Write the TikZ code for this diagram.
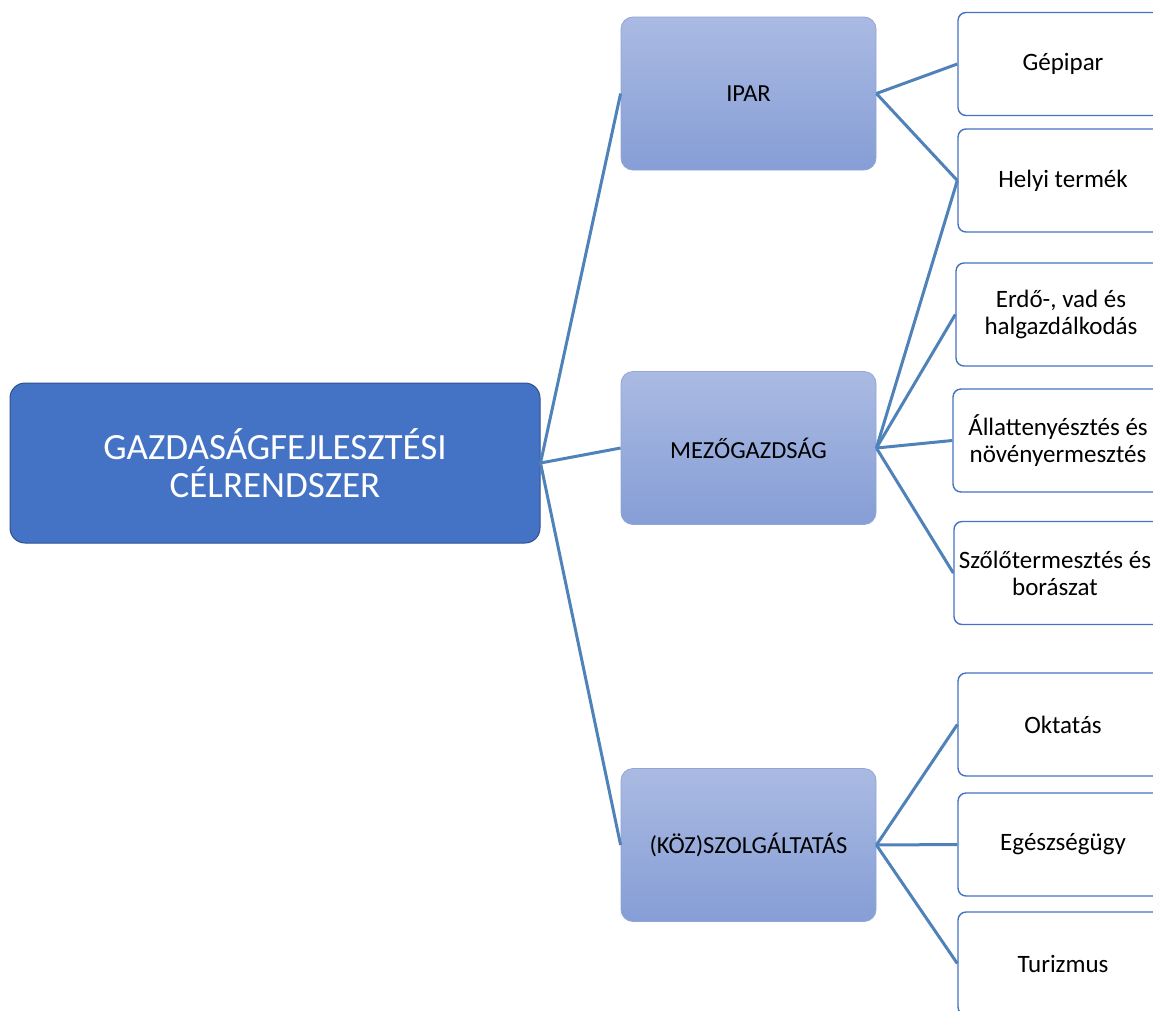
\documentclass[tikz,border=0pt]{standalone}
\usepackage{fontspec}
\setmainfont{Carlito}
\usetikzlibrary{calc, backgrounds}
\definecolor{rootblue}{RGB}{68,114,196}
\definecolor{rootedge}{RGB}{47,82,143}
\definecolor{midtop}{RGB}{170,186,226}
\definecolor{midbottom}{RGB}{134,158,214}
\definecolor{midedge}{RGB}{143,166,214}
\definecolor{linkblue}{RGB}{80,130,186}
\def\lw{3pt}
\tikzset{
    rootbox/.style = {draw=rootedge, line width=1pt, fill=rootblue, rounded corners=15pt, text=white,
        minimum width=530pt, minimum height=160pt, align=center, font=\fontsize{37}{38}\selectfont},
    midbox/.style = {draw=midedge, line width=0.8pt, top color=midtop, bottom color=midbottom, rounded corners=12pt,
        minimum width=255pt, minimum height=153pt, align=center, font=\fontsize{24.5}{28}\selectfont},
    leafbox/.style = {draw=rootblue, line width=1.4pt, fill=white, rounded corners=8pt,
        minimum width=210pt, minimum height=103pt, align=center, font=\fontsize{25}{27}\selectfont},
    link/.style = {draw=linkblue, line width=\lw}
}

\begin{document}
\begin{tikzpicture}[x=1pt, y=-1pt]
        % fix the frame of the picture
        \useasboundingbox (0,0) rectangle (1153,1010);
        \clip (0,0) rectangle (1153,1010);

        % root node
        \node[rootbox] (root) at (275,463) {GAZDASÁGFEJLESZTÉSI\\CÉLRENDSZER};

        % middle nodes
        \node[midbox] (ipar) at (748.5,93.5) {IPAR};
        \node[midbox] (mezo) at (748.5,448) {MEZŐGAZDSÁG};
        \node[midbox] (szolg) at (748.5,845) {(KÖZ)SZOLGÁLTATÁS};

        % leaf nodes (cut at the right edge)
        \node[leafbox] (gepipar) at (1063,64) {Gépipar};
        \node[leafbox] (helyi) at (1063,180.5) {Helyi termék};
        \node[leafbox] (erdo) at (1061,314.5) {Erdő-, vad és\\halgazdálkodás};
        \node[leafbox] (allat) at (1058,440.5) {Állattenyésztés és\\növényermesztés};
        \node[leafbox] (szolo) at (1059,573) {Szőlőtermesztés és\hspace*{8pt}\\borászat\hspace*{8pt}};
        \node[leafbox] (oktatas) at (1063,724.5) {Oktatás};
        \node[leafbox] (egeszseg) at (1063,844.5) {Egészségügy};
        \node[leafbox] (turizmus) at (1063,963.5) {Turizmus};

        % connectors from the root
        \draw[link] (root.east) -- (ipar.west);
        \draw[link] (root.east) -- (mezo.west);
        \draw[link] (root.east) -- (szolg.west);

        % connectors of IPAR
        \draw[link] (ipar.east) -- (gepipar.west);
        \draw[link] (ipar.east) -- (helyi.west);

        % connectors of MEZŐGAZDSÁG
        \draw[link] (mezo.east) -- (helyi.west);
        \draw[link] (mezo.east) -- (erdo.west);
        \draw[link] (mezo.east) -- (allat.west);
        \draw[link] (mezo.east) -- (szolo.west);

        % connectors of (KÖZ)SZOLGÁLTATÁS
        \draw[link] (szolg.east) -- (oktatas.west);
        \draw[link] (szolg.east) -- (egeszseg.west);
        \draw[link] (szolg.east) -- (turizmus.west);
\end{tikzpicture}
\end{document}
